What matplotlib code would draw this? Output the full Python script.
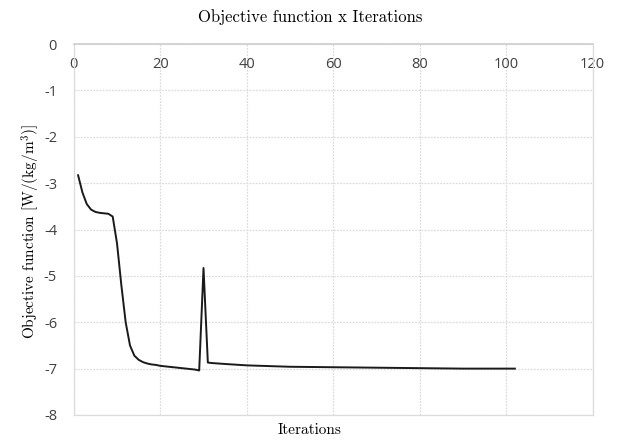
import matplotlib
matplotlib.use("Agg")
import matplotlib.pyplot as plt

# objective value per iteration
iterations = [1, 2, 3, 4, 5, 6, 7, 8, 9, 10, 11, 12, 13, 14, 15, 16, 17, 18, 19, 20,
              22, 24, 26, 28, 29, 30, 31, 32, 35, 40, 50, 60, 70, 80, 90, 102]
objective = [-2.83, -3.2, -3.45, -3.57, -3.62, -3.64, -3.65, -3.66, -3.72, -4.3,
             -5.2, -6.0, -6.5, -6.72, -6.81, -6.86, -6.89, -6.91, -6.92, -6.94,
             -6.96, -6.98, -7.0, -7.02, -7.04, -4.83, -6.87, -6.88, -6.9, -6.93,
             -6.96, -6.97, -6.98, -6.99, -7.0, -7.0]

x_ticks = [0, 20, 40, 60, 80, 100, 120]
y_ticks = [0, -1, -2, -3, -4, -5, -6, -7, -8]

plt.rcParams["mathtext.fontset"] = "cm"
serif = {"family": "cmr10"}
tick_color = "#404040"
grid_color = "#dcdcdc"

fig = plt.figure(figsize=(6.2, 4.41), dpi=100)
ax = fig.add_axes([0.119, 0.059, 0.837, 0.841])

ax.plot(iterations, objective, color="#1a1a1a", linewidth=1.4)

ax.set_xlim(0, 120)
ax.set_ylim(-8, 0)
ax.set_xticks(x_ticks)
ax.set_yticks(y_ticks)
ax.set_yticklabels([str(v) for v in y_ticks])
# horizontal axis crosses at y = 0, labels sit just under it
ax.xaxis.tick_top()
ax.tick_params(axis="both", length=0, labelsize=10.5, colors=tick_color)
ax.tick_params(axis="x", pad=-20)
ax.tick_params(axis="y", pad=12)
for lbl in ax.get_xticklabels() + ax.get_yticklabels():
    lbl.set_family("Open Sans")

ax.grid(True, color=grid_color, linestyle=(0, (1.5, 1)), linewidth=0.9)
for side in ["left", "right", "bottom"]:
    ax.spines[side].set_color(grid_color)
    ax.spines[side].set_linestyle((0, (1.5, 1)))
    ax.spines[side].set_linewidth(0.9)
ax.spines["top"].set_color("#d0d0d0")
ax.spines["top"].set_linewidth(1.3)

fig.text(0.5, 0.961, "Objective function x Iterations", ha="center", va="center",
         fontsize=12, **serif)
fig.text(0.5, 0.025, "Iterations", ha="center", va="center", fontsize=11, **serif)
fig.text(0.05, 0.475, r"Objective function [W/(kg/m$^3$)]", ha="center", va="center",
         rotation=90, fontsize=11, **serif)

fig.savefig("out.png", dpi=100)
